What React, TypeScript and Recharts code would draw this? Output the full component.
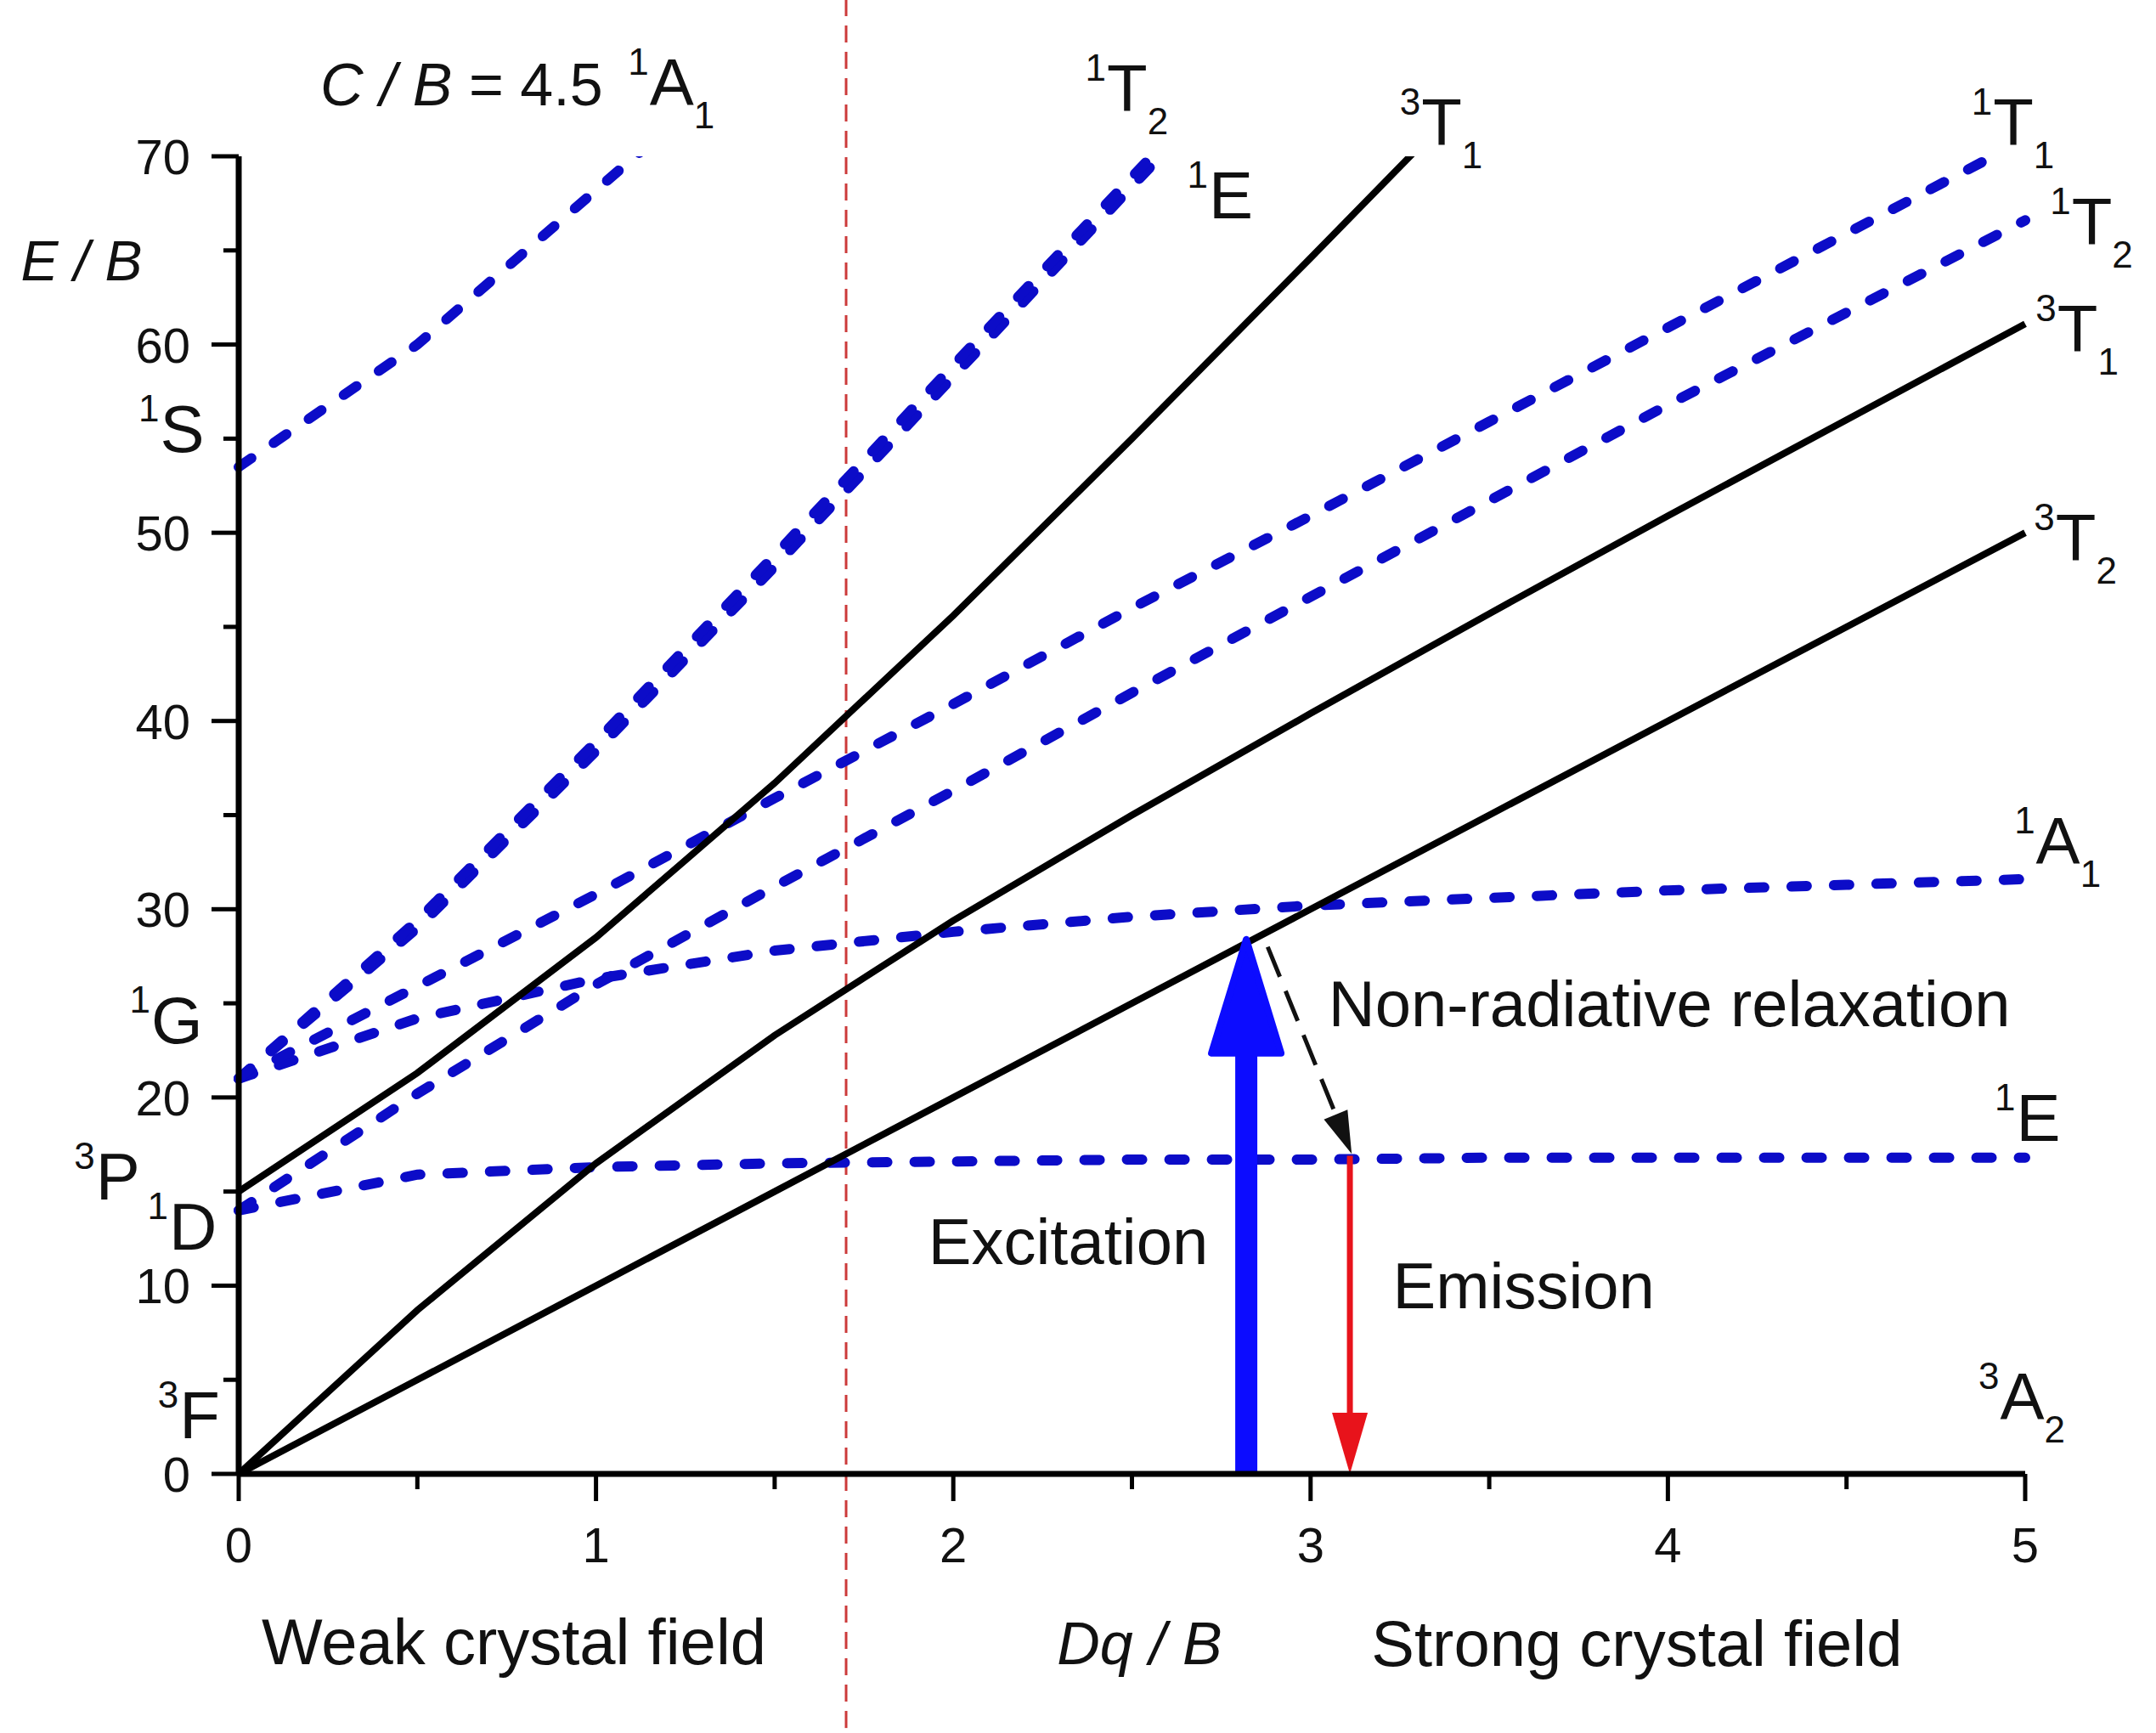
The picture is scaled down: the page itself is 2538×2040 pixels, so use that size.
import React from "react";
import {
  LineChart,
  Line,
  XAxis,
  YAxis,
  ReferenceLine,
  ReferenceDot,
} from "recharts";

const FONT = "'Liberation Sans', Arial, sans-serif";

// Dq/B sample points (also used as x ticks, majors on integers)
const dq = [0, 0.5, 1, 1.5, 2, 2.5, 3, 3.5, 4, 4.5, 5];
const eTicks = [0, 5, 10, 15, 20, 25, 30, 35, 40, 45, 50, 55, 60, 65, 70];

// triplet terms (solid black), E/B
const t3T2 = [0, 5, 10, 15, 20, 25, 30, 35, 40, 45, 50];
const t3T1F = [0, 8.7, 16.5, 23.3, 29.4, 35.0, 40.4, 45.7, 50.9, 56.0, 61.1];
const t3T1P = [15, 21.3, 28.5, 36.7, 45.6, 55.0, 64.6, 74.3, null, null, null];

// singlet terms (dashed blue)
const s1E_D = [14.0, 15.9, 16.3, 16.5, 16.6, 16.7, 16.7, 16.8, 16.8, 16.8, 16.8];
const s1T2_D = [14.0, 20.2, 26.0, 31.2, 36.3, 41.5, 46.6, 51.7, 56.8, 61.7, 66.6];
const s1A1_G = [21.0, 24.2, 26.3, 27.8, 28.8, 29.6, 30.2, 30.6, 31.0, 31.3, 31.6];
const s1T1_G = [21.0, 25.9, 30.8, 35.9, 40.9, 46.0, 50.9, 55.9, 60.9, 65.9, 70.9];
const s1E_G = [21.0, 29.0, 38.4, 48.2, 58.3, 68.4, 78.4, null, null, null, null];
const s1T2_G = [21.0, 29.4, 38.9, 48.8, 58.9, 68.9, 78.9, null, null, null, null];
const s1A1_S = [53.5, 60.0, 68.2, 76.4, null, null, null, null, null, null, null];

const series = [
  { key: "1E(D)", values: s1E_D, solid: false },
  { key: "1T2(D)", values: s1T2_D, solid: false },
  { key: "1A1(G)", values: s1A1_G, solid: false },
  { key: "1T1(G)", values: s1T1_G, solid: false },
  { key: "1E(G)", values: s1E_G, solid: false },
  { key: "1T2(G)", values: s1T2_G, solid: false },
  { key: "1A1(S)", values: s1A1_S, solid: false },
  { key: "3T2", values: t3T2, solid: true },
  { key: "3T1(F)", values: t3T1F, solid: true },
  { key: "3T1(P)", values: t3T1P, solid: true },
];

const data = dq.map((x, i) => {
  const row: Record<string, number | null> = { dq: x };
  series.forEach((s) => (row[s.key] = s.values[i]));
  return row;
});

// annotations (data coordinates)
const boundaryDq = 1.7;
const boundarySpan = [-13.5, 78.5];
const excitation = [{ x: 2.82, y: 0 }, { x: 2.82, y: 28.4 }];
const relaxation = [{ x: 2.88, y: 28.0 }, { x: 3.115, y: 17.0 }];
const emission = [{ x: 3.11, y: 16.9 }, { x: 3.11, y: 0 }];

const terms = [
  { sup: "1", main: "A", sub: "1", x: 1.15, y: 72.7 },
  { sup: "1", main: "T", sub: "2", x: 2.43, y: 72.4 },
  { sup: "1", main: "E", sub: "", x: 2.715, y: 66.7 },
  { sup: "3", main: "T", sub: "1", x: 3.31, y: 70.6 },
  { sup: "1", main: "T", sub: "1", x: 4.91, y: 70.6 },
  { sup: "1", main: "T", sub: "2", x: 5.13, y: 65.3 },
  { sup: "3", main: "T", sub: "1", x: 5.09, y: 59.6 },
  { sup: "3", main: "T", sub: "2", x: 5.085, y: 48.5 },
  { sup: "1", main: "A", sub: "1", x: 5.03, y: 32.4 },
  { sup: "1", main: "E", sub: "", x: 4.975, y: 17.7 },
  { sup: "3", main: "A", sub: "2", x: 4.93, y: 2.9 },
  { sup: "1", main: "S", sub: "", x: -0.22, y: 54.3 },
  { sup: "1", main: "G", sub: "", x: -0.245, y: 22.9 },
  { sup: "3", main: "P", sub: "", x: -0.4, y: 14.6 },
  { sup: "1", main: "D", sub: "", x: -0.195, y: 11.9 },
  { sup: "3", main: "F", sub: "", x: -0.166, y: 1.9 },
];

const notes = [
  { text: "Weak crystal field", x: 0.064, y: -10.1 },
  { text: "Strong crystal field", x: 3.17, y: -10.2 },
  { text: "Excitation", x: 1.93, y: 11.15 },
  { text: "Emission", x: 3.23, y: 8.8 },
  { text: "Non-radiative relaxation", x: 3.05, y: 23.8 },
];

const BLUE = "#0c0cc8";

function XTick({ x, y, payload }: any) {
  const major = Number.isInteger(payload.value);
  return (
    <g>
      <line x1={x} x2={x} y1={y} y2={y + (major ? 32 : 18)} stroke="#000" strokeWidth={5} />
      {major && (
        <text x={x} y={y + 104} textAnchor="middle" fontSize={58} fontFamily={FONT} fill="#111">
          {payload.value}
        </text>
      )}
    </g>
  );
}

function YTick({ x, y, payload }: any) {
  const major = payload.value % 10 === 0;
  return (
    <g>
      <line x1={x - (major ? 32 : 18)} x2={x} y1={y} y2={y} stroke="#000" strokeWidth={5} />
      {major && (
        <text x={x - 57} y={y + 21} textAnchor="end" fontSize={58} fontFamily={FONT} fill="#111">
          {payload.value}
        </text>
      )}
    </g>
  );
}

function TermLabel({ cx, cy, sup, main, sub }: any) {
  return (
    <g fontFamily={FONT} fill="#111">
      <text x={cx - 1} y={cy - 36} fontSize={44} textAnchor="end">
        {sup}
      </text>
      <text x={cx} y={cy} fontSize={78}>
        {main}
        {sub && (
          <tspan fontSize={44} dy={27}>
            {sub}
          </tspan>
        )}
      </text>
    </g>
  );
}

function ExcitationArrow({ x1, y1, x2, y2 }: any) {
  const head = 134;
  return (
    <g>
      <line x1={x1} y1={y1} x2={x2} y2={y2 + head - 4} stroke="#0c0cff" strokeWidth={26} />
      <polygon
        points={`${x2},${y2} ${x2 - 41},${y2 + head} ${x2 + 41},${y2 + head}`}
        fill="#0c0cff"
        stroke="#0c0cff"
        strokeWidth={8}
        strokeLinejoin="round"
      />
    </g>
  );
}

function EmissionArrow({ x1, y1, x2, y2 }: any) {
  const head = 72;
  return (
    <g>
      <line x1={x1} y1={y1} x2={x2} y2={y2 - head + 4} stroke="#e8131b" strokeWidth={7} />
      <polygon points={`${x2},${y2} ${x2 - 21},${y2 - head} ${x2 + 21},${y2 - head}`} fill="#e8131b" />
    </g>
  );
}

function RelaxArrow({ x1, y1, x2, y2 }: any) {
  const dx = x2 - x1;
  const dy = y2 - y1;
  const len = Math.sqrt(dx * dx + dy * dy);
  const ux = dx / len;
  const uy = dy / len;
  const head = 50;
  const bx = x2 - ux * head;
  const by = y2 - uy * head;
  const w = 15;
  return (
    <g>
      <line x1={x1} y1={y1} x2={bx} y2={by} stroke="#111" strokeWidth={5} strokeDasharray="38 18" />
      <polygon
        points={`${x2},${y2} ${bx - uy * w},${by + ux * w} ${bx + uy * w},${by - ux * w}`}
        fill="#111"
      />
    </g>
  );
}

function BoundaryLine({ x1, y1, x2, y2 }: any) {
  return <line x1={x1} y1={y1} x2={x2} y2={y2} stroke="#cc3a3a" strokeWidth={3} strokeDasharray="20 11" />;
}

export default function App() {
  return (
    <div style={{ position: "absolute", left: 0, top: 0, background: "#fff" }}>
      <LineChart
        width={2538}
        height={2040}
        data={data}
        margin={{ top: 184, right: 154, bottom: 245, left: 0 }}
      >
        <XAxis
          dataKey="dq"
          type="number"
          domain={[0, 5]}
          ticks={dq}
          interval={0}
          tickLine={false}
          tickSize={0}
          tickMargin={0}
          height={60}
          axisLine={{ stroke: "#000", strokeWidth: 7 }}
          tick={<XTick />}
        />
        <YAxis
          type="number"
          domain={[0, 70]}
          ticks={eTicks}
          interval={0}
          allowDataOverflow
          tickLine={false}
          tickSize={0}
          tickMargin={0}
          width={281}
          axisLine={{ stroke: "#000", strokeWidth: 7 }}
          tick={<YTick />}
        />
        <ReferenceLine
          segment={[
            { x: boundaryDq, y: boundarySpan[0] },
            { x: boundaryDq, y: boundarySpan[1] },
          ]}
          ifOverflow="visible"
          shape={(p: any) => <BoundaryLine {...p} />}
        />
        {series.map((s) => (
          <Line
            key={s.key}
            dataKey={s.key}
            type="linear"
            stroke={s.solid ? "#000" : BLUE}
            strokeWidth={s.solid ? 8 : 12}
            strokeDasharray={s.solid ? undefined : "18 32"}
            strokeLinecap={s.solid ? "butt" : "round"}
            dot={false}
            activeDot={false}
            isAnimationActive={false}
          />
        ))}
        <ReferenceLine
          segment={excitation}
          ifOverflow="visible"
          shape={(p: any) => <ExcitationArrow {...p} />}
        />
        <ReferenceLine
          segment={relaxation}
          ifOverflow="visible"
          shape={(p: any) => <RelaxArrow {...p} />}
        />
        <ReferenceLine
          segment={emission}
          ifOverflow="visible"
          shape={(p: any) => <EmissionArrow {...p} />}
        />
        {terms.map((t, i) => (
          <ReferenceDot
            key={"t" + i}
            x={t.x}
            y={t.y}
            r={0}
            ifOverflow="visible"
            shape={(p: any) => <TermLabel cx={p.cx} cy={p.cy} sup={t.sup} main={t.main} sub={t.sub} />}
          />
        ))}
        {notes.map((n, i) => (
          <ReferenceDot
            key={"n" + i}
            x={n.x}
            y={n.y}
            r={0}
            ifOverflow="visible"
            shape={(p: any) => (
              <text x={p.cx} y={p.cy} fontSize={76} fontFamily={FONT} fill="#111">
                {n.text}
              </text>
            )}
          />
        ))}
        <ReferenceDot
          x={2.29}
          y={-10.1}
          r={0}
          ifOverflow="visible"
          shape={(p: any) => (
            <text x={p.cx} y={p.cy} fontSize={70} fontFamily={FONT} fontStyle="italic" fill="#111">
              Dq / B
            </text>
          )}
        />
        <ReferenceDot
          x={-0.61}
          y={63.4}
          r={0}
          ifOverflow="visible"
          shape={(p: any) => (
            <text x={p.cx} y={p.cy} fontSize={66} fontFamily={FONT} fontStyle="italic" fill="#111">
              E / B
            </text>
          )}
        />
        <ReferenceDot
          x={0.228}
          y={72.7}
          r={0}
          ifOverflow="visible"
          shape={(p: any) => (
            <text x={p.cx} y={p.cy} fontSize={70} fontFamily={FONT} fill="#111">
              <tspan fontStyle="italic">C / B</tspan> = 4.5
            </text>
          )}
        />
      </LineChart>
    </div>
  );
}
